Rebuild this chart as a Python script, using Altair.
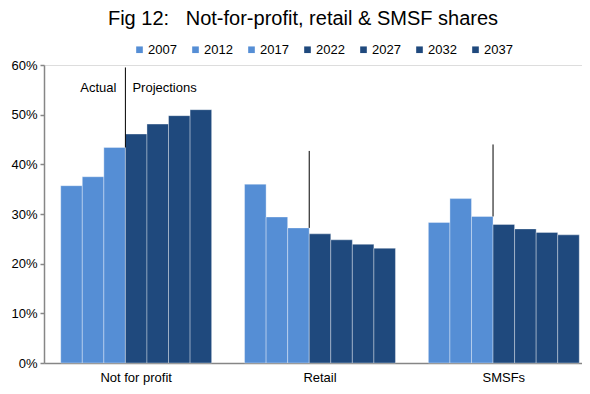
import altair as alt
import pandas as pd

# ---- data ----
categories = ["Not for profit", "Retail", "SMSFs"]
years = ["2007", "2012", "2017", "2022", "2027", "2032", "2037"]
nfp = [35.7, 37.5, 43.4, 46.1, 48.1, 49.8, 51.0]
retail = [36.0, 29.4, 27.2, 26.0, 24.8, 23.9, 23.1]
smsf = [28.3, 33.1, 29.5, 27.9, 27.0, 26.3, 25.8]

# divider between actual and projected values in each group
divider_year = "2022"
divider_top = [59.5, 42.7, 44.0]
divider_bottom = [43.4, 27.2, 29.5]

annot_texts = ["Actual", "Projections"]
annot_value = 55.3

light = "#558ED5"
dark = "#1F497D"
axis_gray = "#868686"
FONT = "Liberation Sans"

rows = []
for cat, vals in zip(categories, [nfp, retail, smsf]):
    for yr, v in zip(years, vals):
        rows.append({"category": cat, "year": yr, "share": v})
df = pd.DataFrame(rows)

rule_df = pd.DataFrame({
    "category": categories,
    "year": [divider_year] * 3,
    "top": divider_top,
    "bottom": divider_bottom,
})
actual_df = pd.DataFrame({"category": [categories[0]], "year": [divider_year],
                          "y": [annot_value], "text": [annot_texts[0]]})
proj_df = pd.DataFrame({"category": [categories[0]], "year": [divider_year],
                        "y": [annot_value], "text": [annot_texts[1]]})

x_enc = alt.X(
    "category:N", sort=categories,
    scale=alt.Scale(range=[0, 552], paddingInner=0.179, paddingOuter=0.091),
    axis=alt.Axis(title=None, labelAngle=0, ticks=False, domainColor=axis_gray,
                  domainWidth=1.5, labelFontSize=13, labelColor="black",
                  labelFont=FONT, labelPadding=8),
)
y_enc = alt.Y(
    "share:Q", scale=alt.Scale(domain=[0, 60]),
    axis=alt.Axis(title=None, values=[0, 10, 20, 30, 40, 50, 60],
                  labelExpr="datum.value + '%'", grid=False, tickSize=4,
                  tickColor=axis_gray, domainColor=axis_gray, domainWidth=1.5,
                  tickWidth=1.5, labelPadding=3, labelFontSize=13,
                  labelColor="black", labelFont=FONT),
)

bars = alt.Chart(df).mark_bar(stroke="white", strokeWidth=1, strokeOpacity=0.35).encode(
    x=x_enc,
    xOffset=alt.XOffset("year:N", sort=years,
                        scale=alt.Scale(paddingInner=0, paddingOuter=0)),
    y=y_enc,
    color=alt.Color(
        "year:N", sort=years,
        scale=alt.Scale(domain=years, range=[light] * 3 + [dark] * 4),
        legend=alt.Legend(title=None, orient="none", direction="horizontal",
                          legendX=89, legendY=-22, symbolType="square",
                          symbolSize=44, symbolStrokeWidth=0, labelFontSize=13,
                          labelFont=FONT, labelColor="black", labelOffset=2,
                          columnPadding=12),
    ),
)

point_offset = alt.XOffset("year:N",
                           scale=alt.Scale(type="point", domain=years + ["end"],
                                           padding=0))

rules = alt.Chart(rule_df).mark_rule(color="black", strokeWidth=1).encode(
    x=alt.X("category:N", sort=categories, title=None),
    xOffset=point_offset,
    y=alt.Y("top:Q", title=None),
    y2="bottom:Q",
)

actual = alt.Chart(actual_df).mark_text(align="right", baseline="middle", dx=-9,
                                        fontSize=13, font=FONT, color="black").encode(
    x=alt.X("category:N", sort=categories, title=None),
    xOffset=point_offset,
    y=alt.Y("y:Q", title=None),
    text="text:N",
)
proj = alt.Chart(proj_df).mark_text(align="left", baseline="middle", dx=7,
                                    fontSize=13, font=FONT, color="black").encode(
    x=alt.X("category:N", sort=categories, title=None),
    xOffset=point_offset,
    y=alt.Y("y:Q", title=None),
    text="text:N",
)

overlay = alt.layer(rules, actual, proj)

chart = alt.layer(bars, overlay).resolve_scale(xOffset="independent").properties(
    width=538, height=298,
    autosize=alt.AutoSizeParams(type="none"),
    padding={"left": 36, "top": 57, "right": 0, "bottom": 23},
    title=alt.TitleParams("Fig 12:\u00a0\u00a0\u00a0Not-for-profit, retail & SMSF shares",
                          fontSize=20, font=FONT, fontWeight="normal",
                          color="black", anchor="middle", dx=-10, offset=14),
).configure_view(stroke=None).configure(background="white")

chart.save("out.html", embed_options={"renderer": "svg", "actions": False})
